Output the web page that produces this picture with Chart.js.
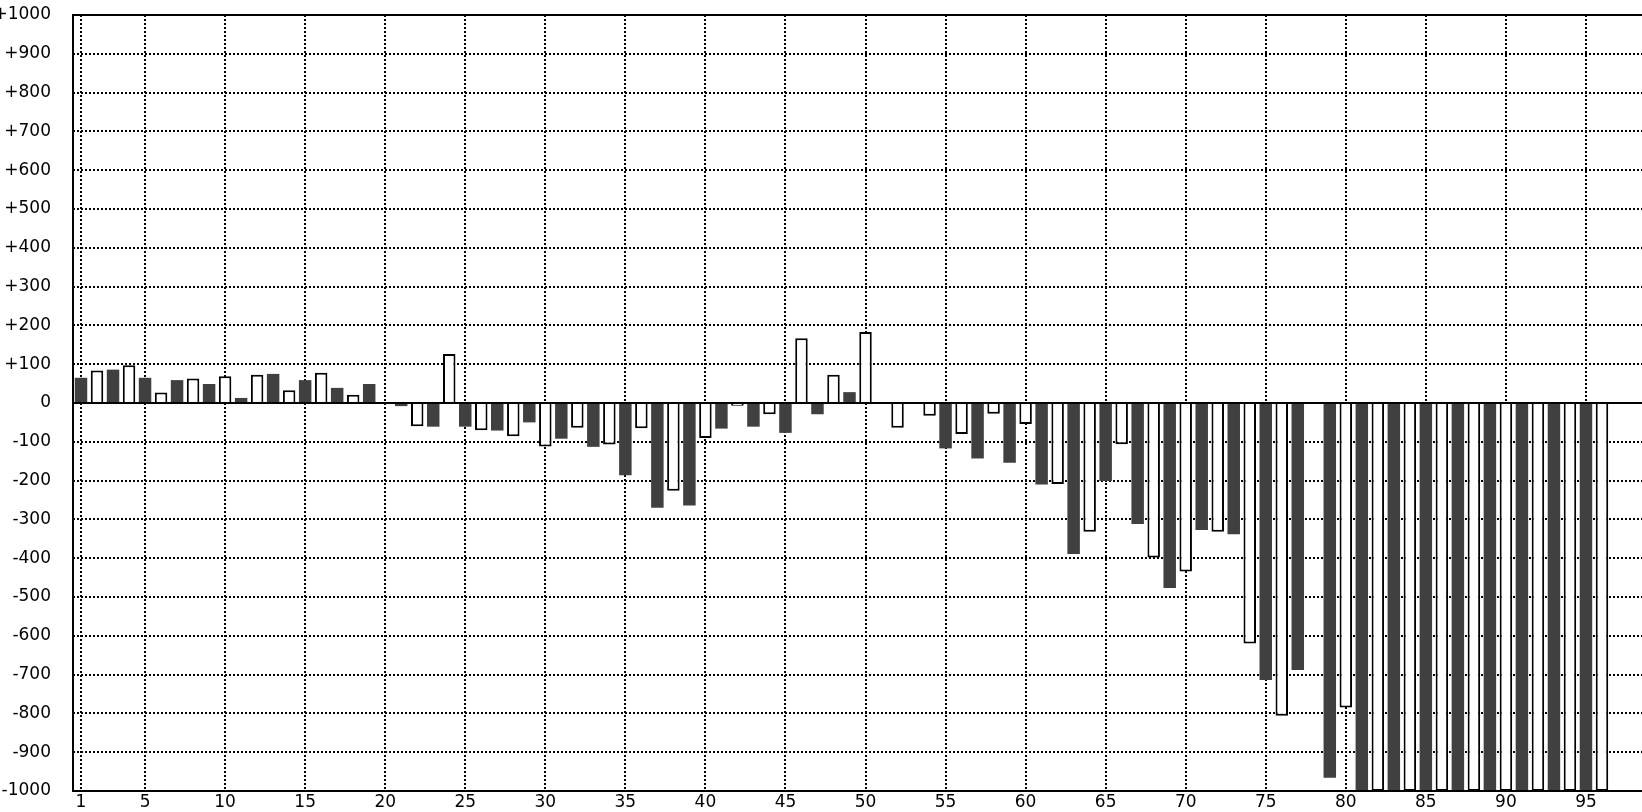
<!DOCTYPE html>
<html>
<head>
<meta charset="utf-8">
<script src="https://cdn.jsdelivr.net/npm/chart.js@4/dist/chart.umd.min.js"></script>
<style>
  html, body { margin: 0; padding: 0; background: #fff; }
  #wrap { width: 1642px; height: 812px; position: relative; }
</style>
</head>
<body>
<div id="wrap"><canvas id="myChart"></canvas></div>
<script>
// posiciones 1..98 (las dos ultimas vacias)
const positions = Array.from({ length: 98 }, (_, i) => i + 1);
const labeledTicks = [1, 5, 10, 15, 20, 25, 30, 35, 40, 45, 50, 55, 60, 65, 70, 75, 80, 85, 90, 95];

const values = [
  65, 84, 86, 97, 65, 27, 59, 63, 49, 69,
  13, 73, 75, 33, 59, 78, 39, 21, 49, 0,
  -8, -60, -61, 126, -61, -70, -71, -86, -50, -112,
  -92, -64, -113, -107, -186, -65, -270, -226, -264, -90,
  -66, -7, -61, -29, -77, 167, -29, 73, 28, 183,
  0, -64, 0, -33, -117, -80, -143, -28, -154, -54,
  -210, -209, -389, -332, -201, -106, -312, -398, -477, -434,
  -327, -332, -338, -620, -714, -806, -688, 2, -966, -785,
  -1000, -1000, -1000, -1000, -1000, -1000, -1000, -1000, -1000, -1000,
  -1000, -1000, -1000, -1000, -1000, -1000, null, null
];

const yMin = -1000;
const yMax = 1000;

const darkColor = "#404040";

const framePlugin = {
  id: "frame",
  afterDatasetsDraw(chart) {
    const { ctx, chartArea: a, scales } = chart;
    const y0 = scales.y.getPixelForValue(0);
    ctx.save();
    ctx.strokeStyle = "#000";
    ctx.lineWidth = 2;
    ctx.beginPath();
    ctx.moveTo(a.right, a.top);
    ctx.lineTo(a.left, a.top);
    ctx.lineTo(a.left, a.bottom);
    ctx.lineTo(a.right, a.bottom);
    ctx.moveTo(a.left, y0);
    ctx.lineTo(a.right, y0);
    ctx.stroke();
    ctx.restore();
  },
};

const config = {
  type: "bar",
  data: {
    labels: positions,
    datasets: [
      {
        data: values,
        backgroundColor: (c) => (c.dataIndex % 2 === 0 ? darkColor : "#ffffff"),
        borderColor: "#000000",
        borderWidth: (c) => (c.dataIndex % 2 === 0 ? 0 : 2),
        barPercentage: 0.78,
        categoryPercentage: 1,
      },
    ],
  },
  options: {
    responsive: true,
    maintainAspectRatio: false,
    animation: false,
    layout: { padding: { top: 15, right: 0, left: 0, bottom: 0 } },
    plugins: {
      legend: { display: false },
      tooltip: { enabled: false },
    },
    scales: {
      x: {
        offset: true,
        grid: { offset: false, color: "#000", lineWidth: 2, drawTicks: false },
        border: { display: false, dash: [2, 2] },
        ticks: {
          autoSkip: false,
          maxRotation: 0,
          padding: 1,
          color: "#000",
          font: { family: "DejaVu Sans", size: 17 },
          callback: function (value) {
            const lbl = positions[value];
            return labeledTicks.includes(lbl) ? String(lbl) : null;
          },
        },
        afterFit: (scale) => {
          scale.height = 21;
          scale.paddingLeft = 0;
          scale.paddingRight = 0;
        },
      },
      y: {
        min: yMin,
        max: yMax,
        grid: { color: "#000", lineWidth: 2, drawTicks: false },
        border: { display: false, dash: [2, 2] },
        ticks: {
          stepSize: 100,
          padding: 22,
          color: "#000",
          font: { family: "DejaVu Sans", size: 17 },
          callback: (v) => (v > 0 ? "+" + v : String(v)),
        },
        afterFit: (scale) => {
          scale.width = 73;
          scale.paddingTop = 0;
          scale.paddingBottom = 0;
        },
      },
    },
  },
  plugins: [framePlugin],
};

const myChart = new Chart(document.getElementById("myChart").getContext("2d"), config);
</script>
</body>
</html>
